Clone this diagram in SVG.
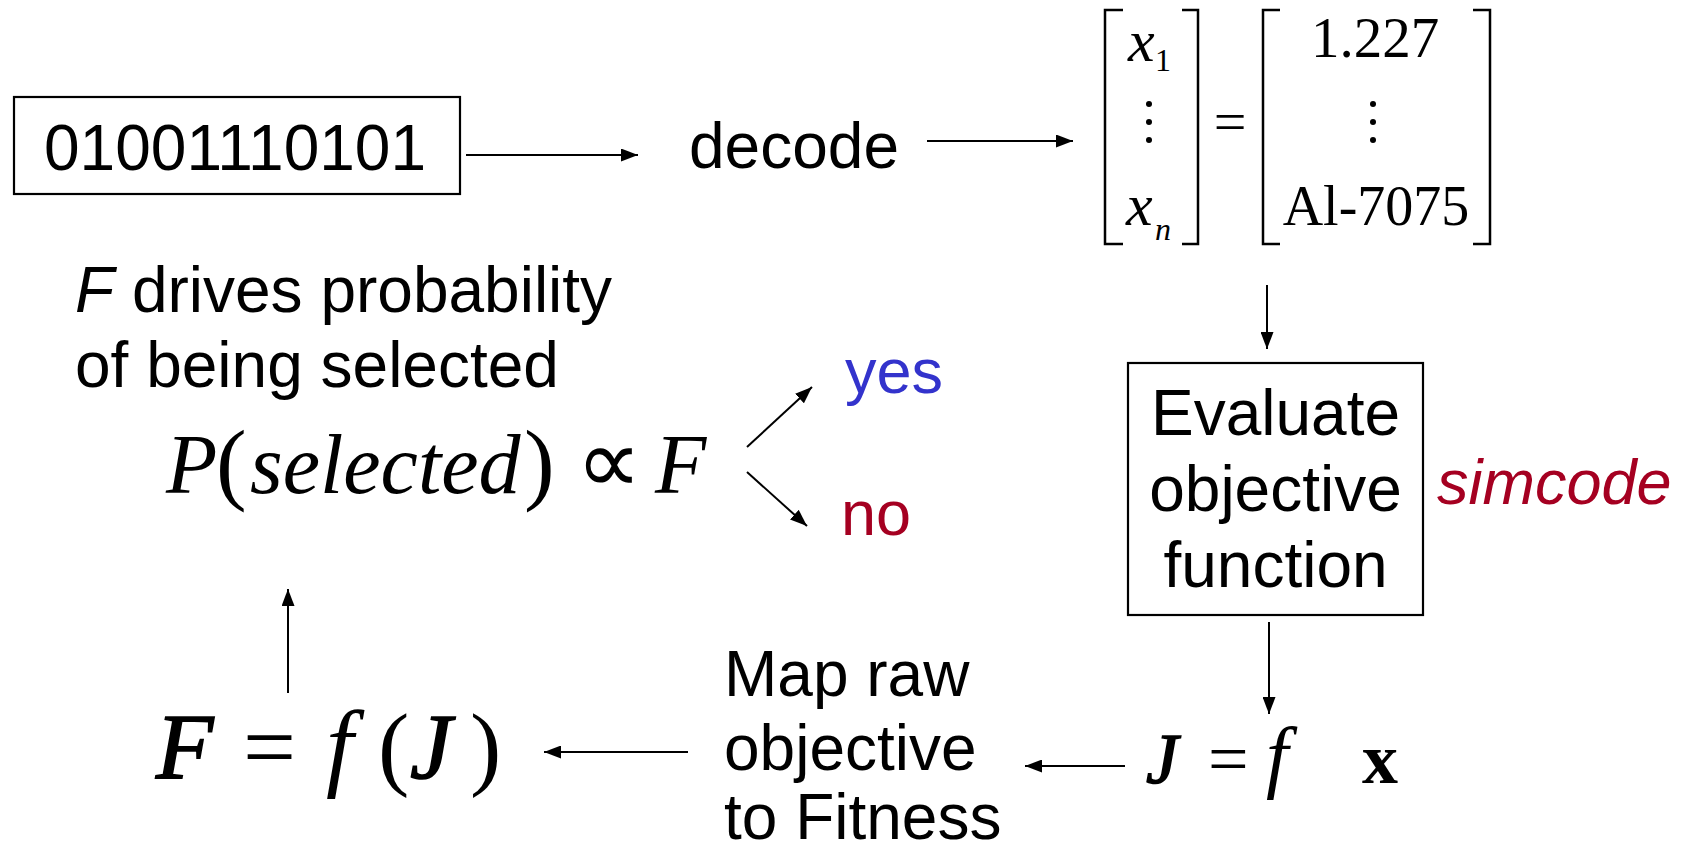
<svg xmlns="http://www.w3.org/2000/svg" width="1684" height="854" viewBox="0 0 1684 854">
<style>
.sans{font-family:"Liberation Sans",Arial,sans-serif;font-size:64px;fill:#000}
.serif{font-family:"Liberation Serif","Times New Roman",serif;fill:#000}
.it{font-style:italic}
.bd{font-weight:bold}
.hv{stroke:#000;stroke-width:1.6}
.box{fill:none;stroke:#000;stroke-width:2.2}
.br{fill:none;stroke:#000;stroke-width:2.5}
.conn line{stroke:#000;stroke-width:2}
</style>
<defs>
<marker id="ah" markerUnits="userSpaceOnUse" markerWidth="17" markerHeight="13" refX="17" refY="6.5" orient="auto">
<path d="M0,0 L17,6.5 L0,13 z" fill="#000"/>
</marker>
</defs>
<rect width="1684" height="854" fill="#fff"/>

<g id="chromosome">
<rect class="box" x="14" y="97" width="446" height="97"/>
<text class="sans" x="44" y="170">01001110101</text>
</g>

<g id="decode">
<text class="sans" x="689" y="168">decode</text>
</g>

<g id="vector">
<path class="br" d="M1123,10 H1105 V244 H1123"/>
<path class="br" d="M1182,10 H1198 V244 H1182"/>
<text class="serif it" x="1128" y="61" font-size="60">x</text>
<text class="serif" x="1155" y="71" font-size="32">1</text>
<circle cx="1149" cy="104" r="3"/>
<circle cx="1149" cy="122" r="3"/>
<circle cx="1149" cy="140" r="3"/>
<text class="serif it" x="1126" y="225" font-size="60">x</text>
<text class="serif it" x="1155" y="240" font-size="32">n</text>
<text class="serif" x="1230" y="141" font-size="58" text-anchor="middle">=</text>
<path class="br" d="M1280,10 H1263 V244 H1280"/>
<path class="br" d="M1473,10 H1490 V244 H1473"/>
<text class="serif" x="1375" y="57" font-size="57" text-anchor="middle">1.227</text>
<circle cx="1373" cy="104" r="3"/>
<circle cx="1373" cy="122" r="3"/>
<circle cx="1373" cy="140" r="3"/>
<text class="serif" x="1376" y="225" font-size="56" text-anchor="middle">Al-7075</text>
</g>

<g id="evaluate">
<rect class="box" x="1128" y="363" width="295" height="252"/>
<text class="sans" x="1275.5" y="435" text-anchor="middle">Evaluate</text>
<text class="sans" x="1275.5" y="511" text-anchor="middle">objective</text>
<text class="sans" x="1275.5" y="587" text-anchor="middle">function</text>
</g>

<g id="simcode">
<text class="sans it" x="1437" y="504" style="fill:#a50021;font-size:63px">simcode</text>
</g>

<g id="objective">
<text class="serif" y="783" font-size="72"><tspan class="it hv" x="1146">J</tspan><tspan x="1208">=</tspan><tspan class="it" x="1266" font-size="80">f</tspan><tspan class="bd" x="1362">x</tspan></text>
</g>

<g id="map">
<text class="sans" x="724" y="696">Map raw</text>
<text class="sans" x="724" y="770">objective</text>
<text class="sans" x="724" y="839">to Fitness</text>
</g>

<g id="fitness">
<text class="serif" y="778" font-size="94"><tspan class="it hv" x="156">F</tspan><tspan x="243">=</tspan><tspan class="it" x="326" font-size="98">f</tspan><tspan x="378">(</tspan><tspan class="it hv" x="410">J</tspan><tspan x="470">)</tspan></text>
</g>

<g id="drives">
<text class="sans" x="75" y="312"><tspan class="it">F</tspan> drives probability</text>
<text class="sans" x="75" y="387">of being selected</text>
</g>

<g id="proportional">
<text class="serif" y="493" font-size="84"><tspan class="it" x="166">P</tspan><tspan x="216" font-size="92">(</tspan><tspan class="it" x="250">selected</tspan><tspan x="524" font-size="92">)</tspan><tspan x="576" font-size="92">∝</tspan><tspan class="it" x="655">F</tspan></text>
</g>

<g id="yes">
<text class="sans" x="845" y="393" style="fill:#3333cc;font-size:63px">yes</text>
</g>
<g id="no">
<text class="sans" x="841" y="535" style="fill:#a50021;font-size:63px">no</text>
</g>

<g id="connectors" class="conn">
<line x1="466" y1="155" x2="638" y2="155" marker-end="url(#ah)"/>
<line x1="927" y1="141" x2="1073" y2="141" marker-end="url(#ah)"/>
<line x1="1267" y1="285" x2="1267" y2="349" marker-end="url(#ah)"/>
<line x1="1269" y1="622" x2="1269" y2="714" marker-end="url(#ah)"/>
<line x1="1125" y1="766" x2="1025" y2="766" marker-end="url(#ah)"/>
<line x1="688" y1="752" x2="544" y2="752" marker-end="url(#ah)"/>
<line x1="288" y1="693" x2="288" y2="589" marker-end="url(#ah)"/>
<line x1="747" y1="447" x2="812" y2="387" marker-end="url(#ah)"/>
<line x1="747" y1="472" x2="807" y2="526" marker-end="url(#ah)"/>
</g>
</svg>
